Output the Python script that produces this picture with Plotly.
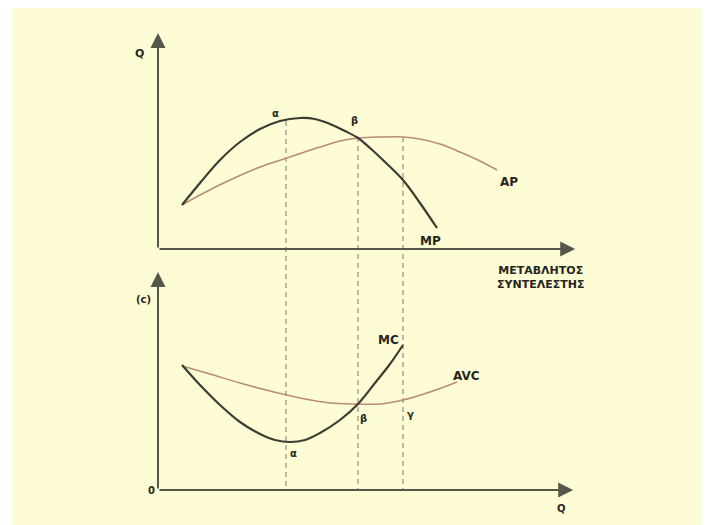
import plotly.graph_objects as go

# ---------------- data (arbitrary economic units) ----------------
# Top panel: marginal product (MP) and average product (AP) vs variable input
mp_x = [0.6, 1.05, 1.55, 2.05, 2.55, 3.05, 3.55, 3.925, 4.3, 4.675, 5.0, 5.3, 5.675, 6.125, 6.55, 6.975]
mp_y = [2.2, 3.3, 4.45, 5.35, 6.0, 6.4, 6.55, 6.5, 6.25, 5.9, 5.55, 5.05, 4.35, 3.45, 2.3, 1.05]
ap_x = [0.6, 1.05, 1.8, 2.55, 3.3, 4.05, 4.55, 5.0, 5.55, 6.125, 6.55, 7.05, 7.55, 8.05, 8.475]
ap_y = [2.2, 2.7, 3.45, 4.1, 4.6, 5.1, 5.4, 5.55, 5.6, 5.6, 5.5, 5.25, 4.85, 4.4, 3.95]

# Bottom panel: marginal cost (MC) and average variable cost (AVC) vs output
mc_x = [0.6, 1.05, 1.55, 2.05, 2.55, 2.925, 3.3, 3.675, 4.05, 4.55, 5.0, 5.425, 5.8, 6.125]
mc_y = [6.25, 5.25, 4.25, 3.4, 2.8, 2.5, 2.4, 2.5, 2.85, 3.5, 4.3, 5.35, 6.3, 7.25]
avc_x = [0.6, 1.3, 2.05, 2.8, 3.55, 4.3, 5.0, 5.55, 6.125, 6.8, 7.475]
avc_y = [6.2, 5.8, 5.35, 4.95, 4.6, 4.35, 4.3, 4.3, 4.5, 4.9, 5.4]

# Reference points alpha, beta, gamma (x position, top-panel curve value)
ref_names = ["α", "β", "γ"]
ref_x = [3.2, 5.0, 6.125]
ref_top_y = [6.4, 5.6, 5.6]

# Axis extents (arrow tips)
top_x_end, top_y_end = 10.43, 10.8
bot_x_end, bot_y_end = 10.38, 10.9

# ---------------- geometry ----------------
W, H = 709, 525
PX0, PX_PER = 150, 40          # pixel of x=0, pixels per x unit
TOP_BASE, BOT_BASE, PY_PER = 241, 482, 20
OFFSET = (BOT_BASE - TOP_BASE) / PY_PER   # bottom-panel units -> top-panel units

def bot_to_top(c):
    return c - OFFSET

DARK = "#3b3d33"
BROWN = "#b98c74"
AXIS = "#55574a"
DASH = "#85857a"
TXT = "#262620"
FONT = "DejaVu Sans, Liberation Sans, Arial, sans-serif"

fig = go.Figure()

# dashed guide lines (drawn on top-panel axes, running down to bottom axis)
for rx, ry in zip(ref_x, ref_top_y):
    fig.add_trace(go.Scatter(x=[rx, rx], y=[ry, bot_to_top(0)], mode="lines",
                             line=dict(color=DASH, width=1.1, dash="5px,4px"),
                             hoverinfo="skip", xaxis="x", yaxis="y"))

fig.add_trace(go.Scatter(x=ap_x, y=ap_y, mode="lines", line=dict(color=BROWN, width=1.5, shape="spline"),
                         name="AP", xaxis="x", yaxis="y"))
fig.add_trace(go.Scatter(x=mp_x, y=mp_y, mode="lines", line=dict(color=DARK, width=2.2, shape="spline"),
                         name="MP", xaxis="x", yaxis="y"))
fig.add_trace(go.Scatter(x=avc_x, y=avc_y, mode="lines", line=dict(color=BROWN, width=1.5, shape="spline"),
                         name="AVC", xaxis="x", yaxis="y2"))
fig.add_trace(go.Scatter(x=mc_x, y=mc_y, mode="lines", line=dict(color=DARK, width=2.2, shape="spline"),
                         name="MC", xaxis="x", yaxis="y2"))

annotations = []
def arrow(x_tip, y_tip, yref):
    annotations.append(dict(x=x_tip, y=y_tip, xref="x", yref=yref, ax=0, ay=0,
                            axref="x", ayref=yref, text="", showarrow=True,
                            arrowhead=2, arrowsize=1.5, arrowwidth=2, arrowcolor=AXIS))
arrow(top_x_end, 0, "y")
arrow(0, top_y_end, "y")
arrow(bot_x_end, 0, "y2")
arrow(0, bot_y_end, "y2")

def label(text, x, y, yref, size=12):
    annotations.append(dict(x=x, y=y, xref="x", yref=yref, text=text, showarrow=False,
                            font=dict(family=FONT, size=size, color=TXT)))

label("<b>Q</b>", -0.475, 9.8, "y", size=11)
label("<b>ΜΕΤΑΒΛΗΤΟΣ<br>ΣΥΝΤΕΛΕΣΤΗΣ</b>", 9.55, -1.4, "y", size=11)
label("<b>AP</b>", 8.775, 3.35, "y")
label("<b>MP</b>", 6.8, 0.4, "y")
label("<b>α</b>", 2.925, 6.8, "y", size=10)
label("<b>β</b>", 4.9, 6.45, "y", size=10)

label("<b>(c)</b>", -0.375, 9.55, "y2", size=10)
label("<b>0</b>", -0.175, 0, "y2", size=10)
label("<b>Q</b>", 10.075, -0.9, "y2", size=10)
label("<b>MC</b>", 5.75, 7.5, "y2")
label("<b>AVC</b>", 7.7, 5.7, "y2")
label("<b>α</b>", 3.375, 1.85, "y2", size=10)
label("<b>β</b>", 5.125, 3.6, "y2", size=10)
label("<b>γ</b>", 6.3, 3.8, "y2", size=10)

fig.update_layout(
    width=W, height=H, margin=dict(l=0, r=0, t=0, b=0),
    paper_bgcolor="white", plot_bgcolor="rgba(0,0,0,0)", showlegend=False,
    xaxis=dict(range=[-PX0 / PX_PER, (W - PX0) / PX_PER], visible=False, domain=[0, 1]),
    yaxis=dict(range=[-(H - TOP_BASE) / PY_PER, TOP_BASE / PY_PER], visible=False, domain=[0, 1]),
    yaxis2=dict(range=[-(H - BOT_BASE) / PY_PER, BOT_BASE / PY_PER], visible=False,
                overlaying="y", anchor="x"),
    shapes=[dict(type="rect", xref="paper", yref="paper", x0=4 / W, x1=1, y0=0, y1=1,
                 fillcolor="#fdfcd5", line=dict(width=0), layer="below")],
    annotations=annotations,
)

fig.write_html("out.html")
